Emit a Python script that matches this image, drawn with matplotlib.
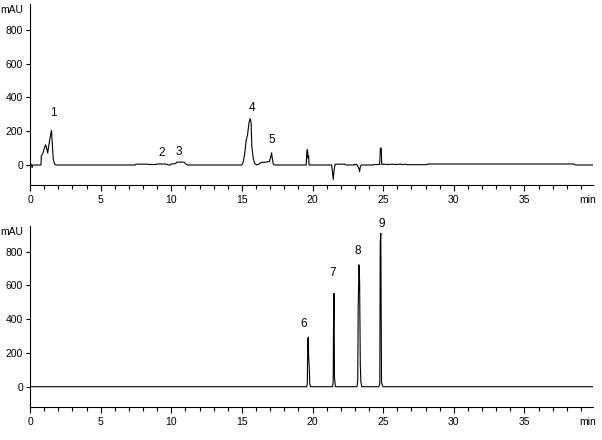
import matplotlib
matplotlib.use("Agg")
import matplotlib.pyplot as plt
from matplotlib.ticker import MultipleLocator

plt.rcParams['font.family'] = ['Liberation Sans', 'DejaVu Sans']

# Upper chromatogram (sample), vertices
top_time = [0.0, 0.05, 0.1, 0.15, 0.2, 0.78, 0.8, 0.9, 1.0, 1.1, 1.15, 1.2, 1.25, 1.3,
            1.45, 1.52, 1.58, 1.65, 1.75, 1.85, 7.45, 7.5, 8.3, 8.4, 8.9, 9.0, 9.6, 9.8,
            9.95, 10.0, 10.3, 10.4, 10.9, 11.05, 11.15, 15.0, 15.1, 15.2, 15.3, 15.4, 15.5,
            15.58, 15.65, 15.7, 15.8, 15.9, 16.05, 16.2, 16.35, 16.8, 16.95, 17.05, 17.1,
            17.15, 17.22, 17.3, 19.55, 19.6, 19.65, 19.68, 19.72, 19.76, 21.35, 21.42,
            21.47, 21.52, 21.6, 22.3, 22.4, 22.9, 22.95, 23.0, 23.1, 23.15, 23.28, 23.33,
            23.38, 23.45, 24.3, 24.35, 24.75, 24.8, 24.86, 24.9, 25.0, 25.3, 25.7, 25.8,
            26.3, 26.35, 26.6, 26.65, 28.1, 28.15, 38.5, 38.6, 39.9]
top_signal = [0, 8, 0, -15, 0, 0, 55, 65, 95, 120, 110, 90, 70, 100,
              175, 205, 120, 30, 5, 0, 0, 5, 5, 3, 3, 6, 6, 0,
              0, 6, 8, 17, 17, 5, 0, 0, 20, 70, 145, 180, 250,
              275, 250, 110, 40, 10, 0, 5, 15, 18, 22, 50, 72,
              40, 5, 0, 0, 88, 90, 40, 55, 0, 0, -50,
              -85, -30, 5, 5, 0, 0, 5, 0, 5, 0, -20, -40,
              -10, 0, 0, 3, 3, 100, 100, 3, 5, 3, 5, 3,
              5, 2, 5, 2, 2, 6, 6, 0, 0]

# Lower chromatogram (standards)
bottom_time = [0.0, 19.58, 19.63, 19.66, 19.7, 19.72, 19.76, 19.8, 19.85, 21.42, 21.46,
               21.48, 21.52, 21.55, 21.58, 21.62, 23.15, 23.2, 23.23, 23.29, 23.33, 23.38,
               23.42, 23.48, 24.7, 24.76, 24.79, 24.83, 24.88, 24.95, 25.0, 39.9]
bottom_signal = [0, 0, 20, 280, 293, 180, 125, 20, 0, 0, 30,
                 336, 553, 60, 30, 0, 0, 40, 474, 722, 622, 130,
                 30, 0, 0, 20, 850, 909, 30, 5, 0, 0]

# Peak numbers and where they sit
top_labels = ['1', '2', '3', '4', '5']
top_label_x = [1.65, 9.35, 10.55, 15.7, 17.1]
top_label_y = [310, 71, 79, 340, 148]
bottom_labels = ['6', '7', '8', '9']
bottom_label_x = [19.4, 21.4, 23.2, 24.9]
bottom_label_y = [371, 675, 803, 961]

x_ticks = [0, 5, 10, 15, 20, 25, 30, 35]
y_ticks = [0, 200, 400, 600, 800]

fig = plt.figure(figsize=(6.02, 4.40), dpi=100)
ax_top = fig.add_axes([30 / 602, 255 / 440, 563 / 602, 181 / 440])
ax_bot = fig.add_axes([30 / 602, 32.7 / 440, 563 / 602, 181.3 / 440])


def style_axis(ax, ylim):
    ax.set_xlim(0, 39.85)
    ax.set_ylim(*ylim)
    for side in ['top', 'right']:
        ax.spines[side].set_visible(False)
    ax.spines['left'].set_linewidth(0.8)
    ax.spines['bottom'].set_linewidth(0.8)
    ax.set_xticks(x_ticks)
    ax.set_xticklabels([str(t) for t in x_ticks])
    ax.xaxis.set_minor_locator(MultipleLocator(1))
    ax.set_yticks(y_ticks)
    ax.set_yticklabels([str(t) for t in y_ticks])
    ax.tick_params(axis='x', which='major', direction='out', length=4, width=0.8,
                   pad=3, labelsize=7.5)
    ax.tick_params(axis='x', which='minor', direction='out', length=3, width=0.8)
    ax.tick_params(axis='y', direction='out', length=3, width=0.8, pad=2, labelsize=7.5)
    ax.text(-0.012, 918, 'mAU', transform=ax.get_yaxis_transform(), ha='right',
            va='center', fontsize=7.5)
    ax.text(0.99, -0.055, 'min', transform=ax.transAxes, ha='center', va='top',
            fontsize=7.5)
    ax.patch.set_visible(False)


ax_top.plot(top_time, top_signal, color='black', linewidth=0.8)
style_axis(ax_top, (-118.5, 954))
for lab, x, y in zip(top_labels, top_label_x, top_label_y):
    ax_top.text(x, y, lab, ha='center', va='center', fontsize=8.5)

ax_bot.plot(bottom_time, bottom_signal, color='black', linewidth=0.8)
style_axis(ax_bot, (-122, 952))
for lab, x, y in zip(bottom_labels, bottom_label_x, bottom_label_y):
    ax_bot.text(x, y, lab, ha='center', va='center', fontsize=8.5, clip_on=False)

fig.savefig('out.png', dpi=100)
